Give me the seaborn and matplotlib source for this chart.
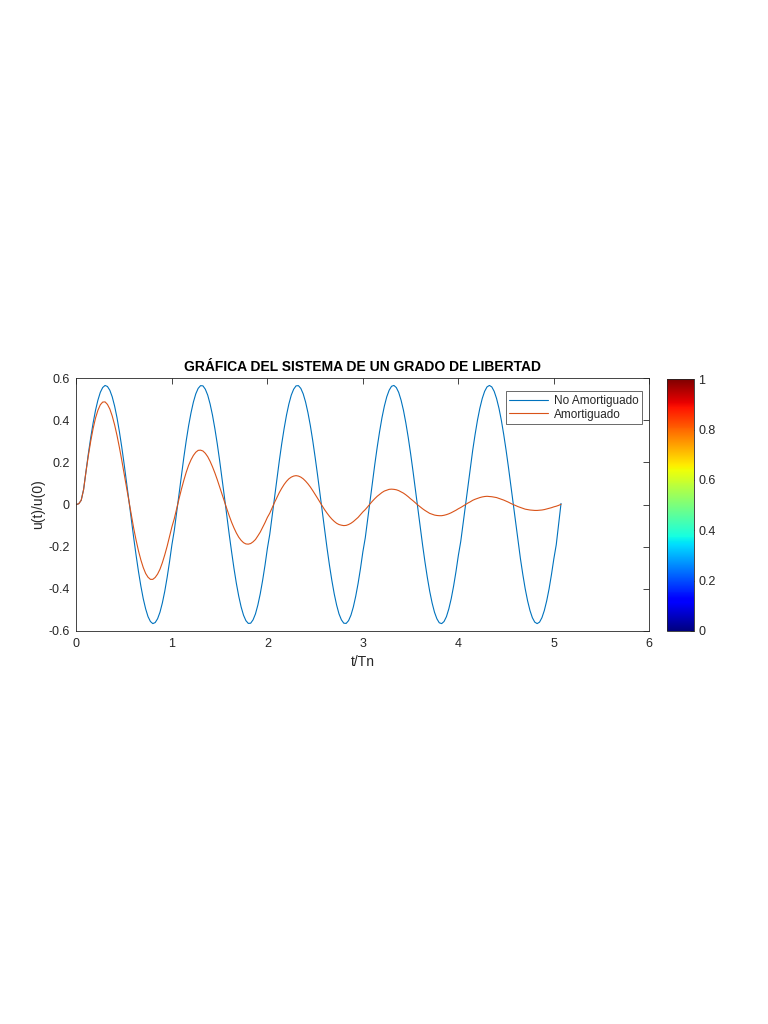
import numpy as np
import pandas as pd
import matplotlib
matplotlib.use("Agg")
import matplotlib.pyplot as plt
import seaborn as sns

# sampling positions along t/Tn (read every 0.025)
t_tn = np.round(np.arange(0, 5.0751, 0.025), 3)

# undamped response u(t)/u(0)
no_amortiguado = [
    0.000, 0.004, 0.020, 0.071, 0.158, 0.241, 0.318, 0.387, 0.447, 0.495,
    0.532, 0.555, 0.565, 0.560, 0.542, 0.511, 0.467, 0.412, 0.346, 0.272,
    0.191, 0.106, 0.018, -0.071, -0.158, -0.241, -0.318, -0.387, -0.447, -0.495,
    -0.532, -0.555, -0.565, -0.560, -0.542, -0.511, -0.467, -0.412, -0.346, -0.272,
    -0.191, -0.123, -0.036, 0.053, 0.141, 0.224, 0.303, 0.374, 0.435, 0.486,
    0.525, 0.551, 0.564, 0.563, 0.547, 0.519, 0.477, 0.424, 0.360, 0.288,
    0.208, 0.123, 0.036, -0.053, -0.141, -0.224, -0.303, -0.374, -0.435, -0.486,
    -0.525, -0.551, -0.564, -0.563, -0.547, -0.519, -0.477, -0.424, -0.360, -0.288,
    -0.208, -0.141, -0.053, 0.036, 0.123, 0.208, 0.288, 0.360, 0.424, 0.477,
    0.519, 0.547, 0.563, 0.564, 0.551, 0.525, 0.486, 0.435, 0.374, 0.303,
    0.224, 0.141, 0.053, -0.036, -0.123, -0.208, -0.288, -0.360, -0.424, -0.477,
    -0.519, -0.547, -0.563, -0.564, -0.551, -0.525, -0.486, -0.435, -0.374, -0.303,
    -0.224, -0.158, -0.071, 0.018, 0.106, 0.191, 0.272, 0.346, 0.412, 0.467,
    0.511, 0.542, 0.561, 0.565, 0.555, 0.532, 0.495, 0.447, 0.387, 0.318,
    0.241, 0.158, 0.071, -0.018, -0.106, -0.191, -0.272, -0.346, -0.412, -0.467,
    -0.511, -0.542, -0.561, -0.565, -0.555, -0.532, -0.495, -0.447, -0.387, -0.318,
    -0.241, -0.175, -0.088, 0.000, 0.088, 0.175, 0.257, 0.332, 0.400, 0.457,
    0.503, 0.537, 0.558, 0.565, 0.558, 0.537, 0.503, 0.457, 0.400, 0.332,
    0.257, 0.175, 0.088, 0.000, -0.088, -0.175, -0.257, -0.332, -0.400, -0.457,
    -0.503, -0.537, -0.558, -0.565, -0.558, -0.537, -0.503, -0.457, -0.400, -0.332,
    -0.257, -0.191, -0.095, 0.005]

# damped response u(t)/u(0)
amortiguado = [
    0.000, 0.004, 0.020, 0.070, 0.155, 0.232, 0.301, 0.361, 0.410, 0.447,
    0.473, 0.486, 0.487, 0.475, 0.453, 0.420, 0.378, 0.328, 0.271, 0.210,
    0.145, 0.079, 0.013, -0.051, -0.113, -0.169, -0.220, -0.263, -0.299, -0.327,
    -0.345, -0.355, -0.355, -0.346, -0.330, -0.307, -0.276, -0.239, -0.198, -0.153,
    -0.106, -0.067, -0.019, 0.028, 0.073, 0.115, 0.153, 0.186, 0.212, 0.233,
    0.248, 0.257, 0.258, 0.254, 0.243, 0.227, 0.205, 0.179, 0.150, 0.118,
    0.084, 0.049, 0.014, -0.020, -0.053, -0.084, -0.111, -0.135, -0.155, -0.170,
    -0.181, -0.187, -0.188, -0.185, -0.177, -0.166, -0.149, -0.131, -0.109, -0.086,
    -0.061, -0.041, -0.015, 0.010, 0.034, 0.057, 0.077, 0.095, 0.110, 0.122,
    0.130, 0.135, 0.137, 0.135, 0.130, 0.122, 0.111, 0.098, 0.083, 0.066,
    0.048, 0.030, 0.011, -0.007, -0.025, -0.041, -0.056, -0.069, -0.080, -0.089,
    -0.095, -0.098, -0.100, -0.099, -0.095, -0.089, -0.081, -0.071, -0.061, -0.048,
    -0.035, -0.024, -0.011, 0.003, 0.016, 0.028, 0.039, 0.048, 0.057, 0.064,
    0.068, 0.072, 0.073, 0.072, 0.070, 0.066, 0.060, 0.054, 0.046, 0.037,
    0.027, 0.018, 0.008, -0.002, -0.011, -0.020, -0.028, -0.035, -0.042, -0.046,
    -0.050, -0.052, -0.053, -0.053, -0.051, -0.048, -0.044, -0.039, -0.033, -0.027,
    -0.020, -0.014, -0.007, 0.000, 0.007, 0.013, 0.020, 0.025, 0.029, 0.033,
    0.036, 0.038, 0.039, 0.038, 0.037, 0.035, 0.033, 0.029, 0.025, 0.021,
    0.016, 0.011, 0.005, 0.000, -0.005, -0.010, -0.014, -0.018, -0.022, -0.024,
    -0.026, -0.027, -0.028, -0.028, -0.027, -0.026, -0.024, -0.021, -0.018, -0.015,
    -0.011, -0.008, -0.004, 0.001]

x_ticks = [0, 1, 2, 3, 4, 5, 6]
y_ticks = [-0.6, -0.4, -0.2, 0, 0.2, 0.4, 0.6]
cbar_ticks = [0, 0.2, 0.4, 0.6, 0.8, 1]

sns.set_style("white")
plt.rcParams["font.family"] = ["Liberation Sans", "DejaVu Sans"]
plt.rcParams["axes.unicode_minus"] = False

df = pd.DataFrame({"t": t_tn, "No Amortiguado": no_amortiguado, "Amortiguado": amortiguado})

fig = plt.figure(figsize=(7.68, 10.24), dpi=100)
ax = fig.add_axes([0.0995, 0.3838, 0.746, 0.2470])
cax = fig.add_axes([0.8685, 0.3840, 0.0345, 0.2455])

sns.lineplot(data=df, x="t", y="No Amortiguado", ax=ax, color="#0072BD",
             linewidth=0.8, label="No Amortiguado", sort=False)
sns.lineplot(data=df, x="t", y="Amortiguado", ax=ax, color="#D95319",
             linewidth=0.8, label="Amortiguado", sort=False)

ax.set_xlim(0, 6)
ax.set_ylim(-0.6, 0.6)
ax.set_xticks(x_ticks)
ax.set_yticks(y_ticks)
ax.set_xticklabels([str(v) for v in x_ticks])
ax.set_yticklabels(["%g" % v for v in y_ticks])
ax.tick_params(direction="in", length=4, width=0.6, colors="#262626",
               labelsize=9, top=True, right=True, pad=5)
for s in ax.spines.values():
    s.set_color("#262626")
    s.set_linewidth(0.6)

ax.set_xlabel("t/Tn", fontsize=10, color="#262626", labelpad=4)
ax.set_ylabel("u(t)/u(0)", fontsize=10, color="#262626", labelpad=2)
ax.set_title("GRÁFICA DEL SISTEMA DE UN GRADO DE LIBERTAD", fontsize=10,
             fontweight="bold", color="black", pad=5)

leg = ax.legend(loc="upper right", bbox_to_anchor=(0.988, 0.948), fontsize=8.5,
                frameon=True, fancybox=False, handlelength=3.3, borderpad=0.3,
                labelspacing=0.15, handletextpad=0.5, borderaxespad=0)
leg.get_frame().set_edgecolor("#262626")
leg.get_frame().set_linewidth(0.6)

sm = plt.cm.ScalarMappable(cmap="jet", norm=plt.Normalize(0, 1))
cb = fig.colorbar(sm, cax=cax)
cb.set_ticks(cbar_ticks)
cb.set_ticklabels(["%g" % v for v in cbar_ticks])
cb.ax.tick_params(direction="in", length=3, width=0.6, colors="#262626", labelsize=9)
cb.outline.set_edgecolor("#262626")
cb.outline.set_linewidth(0.6)

fig.savefig("out.png", dpi=100)
